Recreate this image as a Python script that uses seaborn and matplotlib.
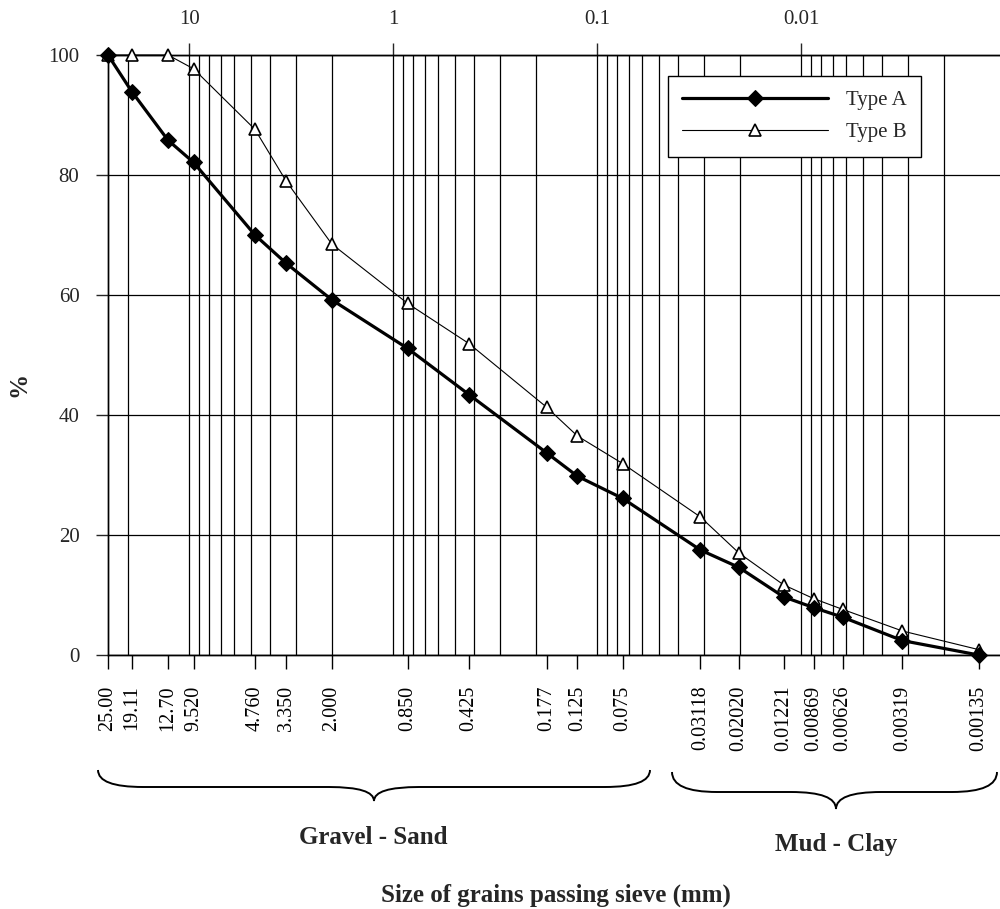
import numpy as np
import pandas as pd
import seaborn as sns
import matplotlib.pyplot as plt
from matplotlib.path import Path
from matplotlib.patches import PathPatch
from matplotlib.ticker import FixedLocator, LogLocator, NullFormatter, NullLocator

# sieve sizes (mm) and % passing
sieve_mm = [25.00, 19.11, 12.70, 9.520, 4.760, 3.350, 2.000, 0.850, 0.425, 0.177,
            0.125, 0.075, 0.03118, 0.02020, 0.01221, 0.00869, 0.00626, 0.00319, 0.00135]
sieve_labels = ['25.00', '19.11', '12.70', '9.520', '4.760', '3.350', '2.000', '0.850',
                '0.425', '0.177', '0.125', '0.075', '0.03118', '0.02020', '0.01221',
                '0.00869', '0.00626', '0.00319', '0.00135']
type_a = [100, 93.9, 85.8, 82.1, 70.0, 65.3, 59.2, 51.1, 43.4, 33.7,
          29.8, 26.1, 17.5, 14.6, 9.7, 7.9, 6.3, 2.4, 0.0]
type_b = [100, 100, 100, 97.7, 87.6, 79.0, 68.5, 58.6, 51.9, 41.3,
          36.5, 31.9, 23.0, 17.0, 11.7, 9.4, 7.6, 4.0, 0.9]
decades = [10, 1, 0.1, 0.01]
decade_labels = ['10', '1', '0.1', '0.01']
y_ticks = [0, 20, 40, 60, 80, 100]

W, H = 1000, 909


def px(x, y):   # pixel (from top-left) -> figure fraction
    return x / W, 1 - y / H


def brace(fig, x0, x1, xc, y_top, y_mid, y_tip, r):  # curly brace pointing down
    pts = [(x0, y_top), (x0, y_mid), (x0 + r, y_mid), (xc - r, y_mid),
           (xc, y_mid), (xc, y_tip), (xc, y_mid), (xc + r, y_mid),
           (x1 - r, y_mid), (x1, y_mid), (x1, y_top)]
    codes = [Path.MOVETO, Path.CURVE3, Path.CURVE3, Path.LINETO,
             Path.CURVE3, Path.CURVE3, Path.CURVE3, Path.CURVE3,
             Path.LINETO, Path.CURVE3, Path.CURVE3]
    path = Path([px(*p) for p in pts], codes)
    fig.add_artist(PathPatch(path, transform=fig.transFigure, fill=False,
                             lw=1.4, edgecolor='black'))


def main():
    sns.set_style('white')
    plt.rcParams['font.family'] = ['Liberation Serif', 'DejaVu Serif']

    df_a = pd.DataFrame({'sieve': sieve_mm, 'pct': type_a})
    df_b = pd.DataFrame({'sieve': sieve_mm, 'pct': type_b})

    fig = plt.figure(figsize=(W / 100, H / 100), dpi=100)
    ax = fig.add_axes([0.108, 1 - 655 / H, 0.8972, 600 / H])

    sns.lineplot(data=df_a, x='sieve', y='pct', ax=ax, estimator=None, sort=False,
                 color='black', lw=2.3, marker='D', markersize=8.5,
                 markerfacecolor='black', markeredgecolor='black',
                 label='Type A', clip_on=False, zorder=4)
    sns.lineplot(data=df_b, x='sieve', y='pct', ax=ax, estimator=None, sort=False,
                 color='black', lw=0.8, marker='^', markersize=9,
                 markerfacecolor='white', markeredgecolor='black', markeredgewidth=1.2,
                 label='Type B', clip_on=False, zorder=3)

    ax.set_xscale('log')
    ax.set_xlim(25, 0.001)
    ax.set_ylim(0, 100)

    # bottom axis: sieve sizes
    ax.xaxis.set_major_locator(FixedLocator(sieve_mm))
    ax.set_xticklabels(sieve_labels, rotation=90, fontsize=14.5, va='top')
    ax.xaxis.set_minor_locator(NullLocator())
    ax.tick_params(axis='x', direction='out', length=10, width=1, pad=12, colors='black',
                   bottom=True)
    ax.set_yticks(y_ticks)
    ax.tick_params(axis='y', direction='out', length=8.6, width=1, pad=12, labelsize=15,
                   left=True)
    ax.grid(True, axis='y', color='black', lw=0.9)
    ax.grid(False, axis='x')
    ax.set_xlabel('')
    ax.set_ylabel('')
    for s in ax.spines.values():
        s.set_color('black')
        s.set_linewidth(1)

    # top axis: decades + log grid
    ax2 = ax.twiny()
    ax2.set_xscale('log')
    ax2.set_xlim(25, 0.001)
    ax2.xaxis.set_major_locator(FixedLocator(decades))
    ax2.set_xticklabels(decade_labels, fontsize=15)
    ax2.xaxis.set_minor_locator(LogLocator(base=10, subs=np.arange(2, 10)))
    ax2.xaxis.set_minor_formatter(NullFormatter())
    ax2.tick_params(axis='x', which='major', direction='out', length=8.6, width=1, pad=10,
                    top=True)
    ax2.tick_params(axis='x', which='minor', length=0)
    ax2.grid(True, which='both', axis='x', color='black', lw=0.9)
    for s in ax2.spines.values():
        s.set_color('black')
        s.set_linewidth(1)
    ax.set_zorder(ax2.get_zorder() + 1)
    ax.patch.set_visible(False)

    handles, labels = ax.get_legend_handles_labels()
    leg = ax.legend(handles, labels, loc='upper left', bbox_to_anchor=(0.624, 0.965),
                    borderaxespad=0, frameon=True, fancybox=False, edgecolor='black',
                    framealpha=1, handlelength=7, handletextpad=0.85, borderpad=0.7,
                    labelspacing=0.6, fontsize=15, numpoints=1)
    leg.get_frame().set_linewidth(1)

    # y label
    fig.text(*px(19, 384), '%', rotation=90, ha='center', va='center',
             fontsize=18, fontweight='bold')

    # braces + group labels
    brace(fig, 98, 650, 374, 770, 787, 801, 45)
    brace(fig, 672, 997, 836, 772, 792, 809, 45)
    fig.text(*px(373, 837), 'Gravel - Sand', ha='center', va='center',
             fontsize=18, fontweight='bold')
    fig.text(*px(836, 844), 'Mud - Clay', ha='center', va='center',
             fontsize=18, fontweight='bold')
    # axis title centred on the plot area
    fig.text(*px(556, 895), 'Size of grains passing sieve (mm)', ha='center',
             va='center', fontsize=18, fontweight='bold')

    fig.savefig('out.png', dpi=100, facecolor='white')


if __name__ == '__main__':
    main()
